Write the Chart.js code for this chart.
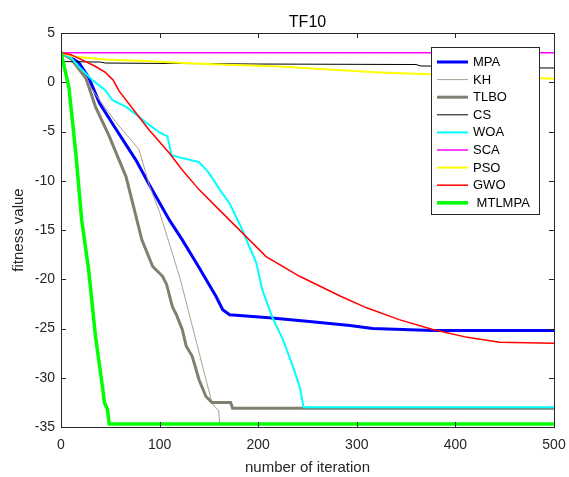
<!DOCTYPE html>
<html>
<head>
<meta charset="utf-8">
<script src="https://cdn.jsdelivr.net/npm/chart.js@4.4.0/dist/chart.umd.min.js"></script>
<style>
  body { margin: 0; background: #fff; }
  #wrap { width: 569px; height: 477px; }
</style>
</head>
<body>
<div id="wrap"><canvas id="tf10Chart" width="569" height="477"></canvas></div>
<script>
// convergence curves
const seriesNames = ['MPA', 'KH', 'TLBO', 'CS', 'WOA', 'SCA', 'PSO', 'GWO', ' MTLMPA'];

const mpaIter = [0, 10, 18, 28, 39, 56, 76, 89, 110, 123, 140, 147, 157, 164, 171, 211, 252, 293, 316, 377, 500];
const mpaFit = [3, 2.5, 2.0, 0.5, -2.1, -4.8, -7.9, -10.3, -14, -16, -18.8, -20, -21.7, -23.1, -23.6, -23.9, -24.3, -24.7, -25.0, -25.2, -25.2];

const khIter = [0, 8, 15, 25, 39, 56, 79, 90, 100, 121, 153, 157, 160, 161, 500];
const khFit = [3, 2.6, 1.6, 0.2, -1.8, -4.1, -6.8, -10.6, -13.2, -20, -32.5, -33.1, -33.3, -34.7, -34.7];

const tlboIter = [0, 10, 25, 35, 49, 56, 66, 76, 82, 93, 103, 107, 113, 117, 123, 127, 133, 140, 147, 153, 172, 174, 500];
const tlboFit = [3, 2.4, 0.5, -2.5, -5.5, -7.2, -9.6, -13.6, -16, -18.7, -19.7, -20.5, -22.8, -23.6, -25.1, -26.8, -27.8, -30.2, -31.9, -32.5, -32.5, -33.1, -33.1];

const csIter = [0, 2, 40, 45, 200, 360, 365, 430, 440, 500];
const csFit = [3, 2.1, 2.05, 1.95, 1.85, 1.8, 1.65, 1.6, 1.45, 1.45];

const woaIter = [0, 10, 18, 32, 45, 52, 66, 79, 89, 100, 108, 112, 123, 140, 150, 161, 171, 184, 191, 198, 204, 214, 225, 235, 242, 246, 500];
const woaFit = [3, 2.5, 1.6, 0.2, -0.8, -1.8, -2.5, -3.5, -4.3, -5.1, -5.5, -7.4, -7.7, -8.1, -9.2, -10.9, -12.3, -15.0, -16.7, -18.3, -21, -23.8, -26.1, -28.8, -30.9, -33.0, -33.0];

const scaIter = [0, 500];
const scaFit = [3.0, 3.0];

const psoIter = [0, 14, 45, 95, 113, 161, 222, 272, 323, 374, 500];
const psoFit = [3, 2.6, 2.3, 2.1, 2.0, 1.8, 1.6, 1.3, 1.0, 0.8, 0.35];

const gwoIter = [0, 10, 21, 35, 45, 53, 59, 79, 89, 110, 123, 140, 157, 188, 208, 242, 283, 310, 343, 377, 412, 445, 500];
const gwoFit = [3, 2.8, 2.3, 1.6, 1.0, 0.2, -0.9, -3.5, -4.8, -7.2, -8.9, -10.9, -12.6, -15.7, -17.7, -19.7, -21.7, -22.9, -24.1, -25.1, -25.9, -26.4, -26.5];

const mtlmpaIter = [0, 8, 15, 21, 28, 35, 42, 44, 47, 49, 500];
const mtlmpaFit = [3, -0.5, -7.2, -14, -19, -25.8, -30.9, -32.5, -33.2, -34.7, -34.7];

const xTicks = [0, 100, 200, 300, 400, 500];
const yTicks = [5, 0, -5, -10, -15, -20, -25, -30, -35];

const seriesColors = ['#0000ff', '#ab9f94', '#808070', '#000000', '#00ffff', '#ff00ff', '#ffff00', '#ff0000', '#00ff00'];
const seriesWidths = [3, 1, 3, 1, 2, 1.5, 2, 1.5, 3.5];

const fontFamily = '"Liberation Sans", Arial, Helvetica, sans-serif';
const axisColor = '#262626';

function toPoints(iters, values) {
    return iters.map((x, i) => ({ x: x, y: values[i] }));
}

const allSeries = [
    [mpaIter, mpaFit], [khIter, khFit], [tlboIter, tlboFit], [csIter, csFit], [woaIter, woaFit],
    [scaIter, scaFit], [psoIter, psoFit], [gwoIter, gwoFit], [mtlmpaIter, mtlmpaFit]
];

const datasets = allSeries.map((s, i) => ({
    label: seriesNames[i],
    data: toPoints(s[0], s[1]),
    borderColor: seriesColors[i],
    borderWidth: seriesWidths[i],
    pointRadius: 0,
    fill: false,
    tension: 0,
    order: allSeries.length - i   // later series drawn on top, like MATLAB
}));

// box, inward ticks, title and legend in MATLAB style
const matlabFrame = {
    id: 'matlabFrame',
    afterDraw(chart) {
        const ctx = chart.ctx;
        const area = chart.chartArea;
        const xs = chart.scales.x;
        const ys = chart.scales.y;
        ctx.save();
        ctx.strokeStyle = axisColor;
        ctx.lineWidth = 1;
        ctx.strokeRect(Math.round(area.left) + 0.5, Math.round(area.top) + 0.5,
            Math.round(area.right - area.left), Math.round(area.bottom - area.top));
        ctx.beginPath();
        xTicks.forEach(v => {
            const px = Math.round(xs.getPixelForValue(v)) + 0.5;
            ctx.moveTo(px, area.bottom); ctx.lineTo(px, area.bottom - 5);
            ctx.moveTo(px, area.top); ctx.lineTo(px, area.top + 5);
        });
        yTicks.forEach(v => {
            const py = Math.round(ys.getPixelForValue(v)) + 0.5;
            ctx.moveTo(area.left, py); ctx.lineTo(area.left + 5, py);
            ctx.moveTo(area.right, py); ctx.lineTo(area.right - 5, py);
        });
        ctx.stroke();

        // title
        ctx.fillStyle = '#000';
        ctx.font = '16px ' + fontFamily;
        ctx.textAlign = 'center';
        ctx.textBaseline = 'alphabetic';
        ctx.fillText('TF10', (area.left + area.right) / 2, 27);

        // legend
        const lx = 431, ly = 47, lw = 108, lh = 167;
        ctx.fillStyle = '#fff';
        ctx.fillRect(lx, ly, lw, lh);
        ctx.strokeStyle = axisColor;
        ctx.strokeRect(lx + 0.5, ly + 0.5, lw, lh);
        ctx.font = '13px ' + fontFamily;
        ctx.textAlign = 'left';
        ctx.textBaseline = 'middle';
        seriesNames.forEach((name, i) => {
            const y = ly + 15 + i * 17.6;
            ctx.strokeStyle = seriesColors[i];
            ctx.lineWidth = seriesWidths[i];
            ctx.beginPath();
            ctx.moveTo(lx + 6, y);
            ctx.lineTo(lx + 37, y);
            ctx.stroke();
            ctx.fillStyle = '#000';
            ctx.fillText(name, lx + 42, y + 0.5);
        });
        ctx.restore();
    }
};

const canvas = document.getElementById('tf10Chart');
new Chart(canvas, {
    type: 'line',
    data: { datasets: datasets },
    options: {
        responsive: false,
        animation: false,
        devicePixelRatio: 1,
        layout: { padding: { top: 33, right: 15, left: 0, bottom: 0 } },
        plugins: {
            legend: { display: false },
            tooltip: { enabled: false }
        },
        scales: {
            x: {
                type: 'linear',
                min: 0,
                max: 500,
                afterFit: s => { s.height = 50; s.paddingLeft = 0; s.paddingRight = 0; },
                afterBuildTicks: s => { s.ticks = xTicks.map(v => ({ value: v })); },
                grid: { display: false, drawTicks: false },
                border: { display: false },
                ticks: { color: axisColor, font: { family: fontFamily, size: 14 }, padding: 10, maxRotation: 0 },
                title: { display: true, text: 'number of iteration', color: axisColor,
                    font: { family: fontFamily, size: 15 }, padding: { top: 0, bottom: 0 } }
            },
            y: {
                type: 'linear',
                min: -35,
                max: 5,
                afterFit: s => { s.width = 61; s.paddingTop = 0; s.paddingBottom = 0; },
                afterBuildTicks: s => { s.ticks = yTicks.map(v => ({ value: v })); },
                grid: { display: false, drawTicks: false },
                border: { display: false },
                ticks: { color: axisColor, font: { family: fontFamily, size: 14 }, padding: 6 },
                title: { display: true, text: 'fitness value', color: axisColor,
                    font: { family: fontFamily, size: 15 }, padding: { top: 10, bottom: 0 } }
            }
        }
    },
    plugins: [matlabFrame]
});
</script>
</body>
</html>
